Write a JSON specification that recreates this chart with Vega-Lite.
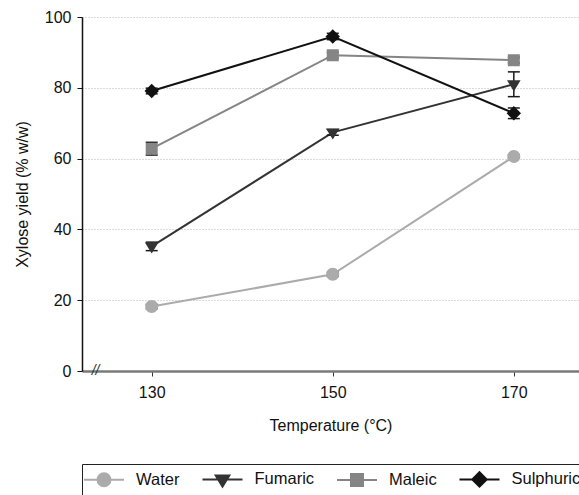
{
  "$schema": "https://vega.github.io/schema/vega-lite/v6.json",
  "width": 497,
  "height": 354,
  "autosize": {"type": "none"},
  "padding": {"left": 82, "top": 17, "right": 0, "bottom": 124},
  "background": "white",
  "config": {
    "view": {"stroke": null},
    "font": "Liberation Sans",
    "axis": {"labelFont": "Liberation Sans", "titleFont": "Liberation Sans", "labelFontSize": 16, "titleFontSize": 16, "titleFontWeight": "normal", "labelColor": "#111", "titleColor": "#111", "tickSize": 5}
  },
  "datasets": {
    "pts": [
      {"Acid": "Water", "T": 130, "Y": 18.2, "lo": 17.6, "hi": 18.8},
      {"Acid": "Water", "T": 150, "Y": 27.3, "lo": 26.7, "hi": 27.9},
      {"Acid": "Water", "T": 170, "Y": 60.6, "lo": 60.1, "hi": 61.1},
      {"Acid": "Fumaric", "T": 130, "Y": 35.2, "lo": 34.0, "hi": 36.4},
      {"Acid": "Fumaric", "T": 150, "Y": 67.4, "lo": 66.6, "hi": 68.2},
      {"Acid": "Fumaric", "T": 170, "Y": 81.0, "lo": 77.5, "hi": 84.5},
      {"Acid": "Maleic", "T": 130, "Y": 62.8, "lo": 61.0, "hi": 64.6},
      {"Acid": "Maleic", "T": 150, "Y": 89.2, "lo": 88.4, "hi": 90.0},
      {"Acid": "Maleic", "T": 170, "Y": 87.8, "lo": 87.0, "hi": 88.6},
      {"Acid": "Sulphuric", "T": 130, "Y": 79.1, "lo": 78.3, "hi": 79.9},
      {"Acid": "Sulphuric", "T": 150, "Y": 94.5, "lo": 93.6, "hi": 95.4},
      {"Acid": "Sulphuric", "T": 170, "Y": 72.8, "lo": 71.3, "hi": 74.3}
    ],
    "brk": [{"T": 123.8, "Y": 0, "label": "//"}]
  },
  "data": {"name": "pts"},
  "encoding": {
    "x": {"field": "T", "type": "quantitative", "scale": {"domain": [122.3, 177.2], "nice": false, "zero": false},
      "axis": {"values": [130, 150, 170], "title": "Temperature (°C)", "grid": false, "domainColor": "#7a7a7a", "domainWidth": 2.5, "tickColor": "#333", "labelPadding": 8, "titlePadding": 17}},
    "y": {"field": "Y", "type": "quantitative", "scale": {"domain": [0, 100], "nice": false},
      "axis": {"values": [0, 20, 40, 60, 80, 100], "title": "Xylose yield (% w/w)", "grid": true, "gridColor": "#b5b5b5", "gridDash": [1, 2], "gridWidth": 1, "domainColor": "#111", "domainWidth": 1.5, "tickColor": "#111", "labelPadding": 6, "titlePadding": 14}},
    "color": {"field": "Acid", "type": "nominal", "scale": {"domain": ["Water", "Fumaric", "Maleic", "Sulphuric"], "range": ["#ababab", "#333333", "#858585", "#111111"]},
      "legend": {
        "title": null, "orient": "none", "legendX": 0, "legendY": 447, "direction": "horizontal", "columns": 4,
        "strokeColor": "#222", "padding": 4, "symbolSize": 400, "symbolOffset": 7, "labelFontSize": 16.5, "labelFont": "Liberation Sans", "labelColor": "#111", "columnPadding": 18.5, "labelOffset": 21,
        "encode": {"symbols": {"update": {
          "stroke": {"scale": "color", "field": "value"},
          "fill": {"scale": "color", "field": "value"},
          "strokeWidth": {"value": 2},
          "opacity": {"value": 1}
        }}}
      }}
  },
  "layer": [
    {
      "mark": {"type": "line", "strokeWidth": 2}
    },
    {
      "mark": {"type": "rule", "strokeWidth": 1.5},
      "encoding": {"y": {"field": "lo", "type": "quantitative"}, "y2": {"field": "hi"}, "color": {"value": "#1a1a1a"}}
    },
    {
      "mark": {"type": "point", "shape": "stroke", "size": 144, "strokeWidth": 1.5, "opacity": 1},
      "encoding": {"y": {"field": "lo", "type": "quantitative"}, "color": {"value": "#1a1a1a"}}
    },
    {
      "mark": {"type": "point", "shape": "stroke", "size": 144, "strokeWidth": 1.5, "opacity": 1},
      "encoding": {"y": {"field": "hi", "type": "quantitative"}, "color": {"value": "#1a1a1a"}}
    },
    {
      "mark": {"type": "point", "filled": true, "size": 400, "opacity": 1, "strokeWidth": 0},
      "encoding": {
        "shape": {"field": "Acid", "type": "nominal", "scale": {"domain": ["Water", "Fumaric", "Maleic", "Sulphuric"], "range": [
          "M-2,0H2M-0.65,0A0.65,0.65,0,1,1,0.65,0A0.65,0.65,0,1,1,-0.65,0Z",
          "M-2,0H2M-0.68,-0.4L0.68,-0.4L0,0.72Z",
          "M-2,0H2M-0.6,-0.6H0.6V0.6H-0.6Z",
          "M-2,0H2M0,-0.72L0.72,0L0,0.72L-0.72,0Z"
        ]}, "legend": null}
      }
    },
    {
      "data": {"name": "brk"},
      "mark": {"type": "text", "fontSize": 14, "fontStyle": "italic"},
      "encoding": {"x": {"field": "T", "type": "quantitative"}, "y": {"field": "Y", "type": "quantitative"}, "text": {"field": "label"}, "color": {"value": "#333"}}
    }
  ]
}
